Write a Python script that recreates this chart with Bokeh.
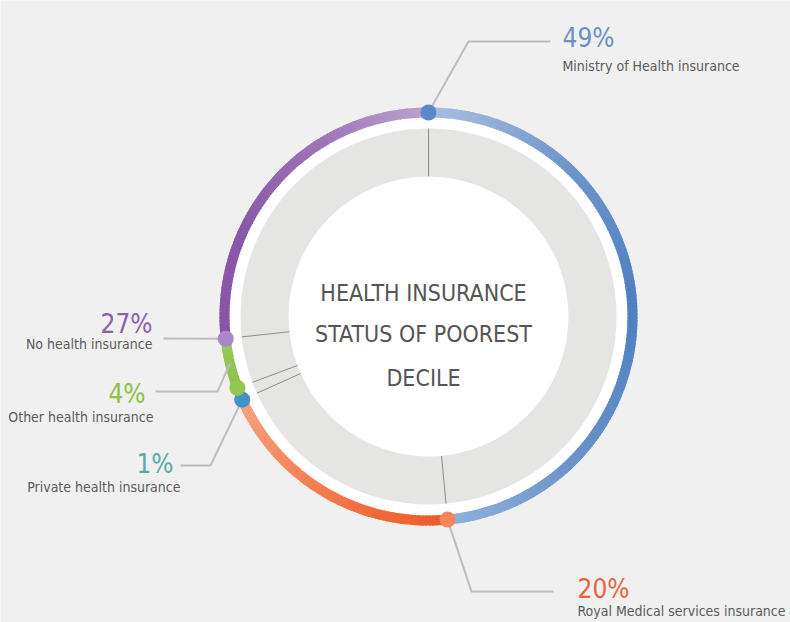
import math
from bokeh.plotting import figure
from bokeh.models import Range1d
from bokeh.core.properties import value
from bokeh.embed import file_html
from bokeh.resources import INLINE

# ---------------- data ----------------
categories = ["Ministry of Health insurance", "Royal Medical services insurance",
              "Private health insurance", "Other health insurance", "No health insurance"]
values = [49, 20, 1, 4, 27]
pct_labels = ["49%", "20%", "1%", "4%", "27%"]
title_lines = ["HEALTH INSURANCE", "STATUS OF POOREST", "DECILE"]

# ---------------- styles ----------------
FONT = "DejaVu Sans Condensed"
seg_stops = [
    ["#a9c0df", "#6f95cb", "#4e7fc0", "#6890c8", "#8fb0da"],
    ["#ef5828", "#f16c3c", "#f4875c", "#f6a283"],
    ["#45a0b8", "#5aaeaa"],
    ["#8cc24c", "#96ca5a"],
    ["#8854a7", "#8a58a9", "#9c74b8", "#bba3ce"],
]
dot_colors = ["#5a89c9", "#f4845a", "#3f93c6", "#93c752", "#a888c6"]
pct_colors = ["#6d8fc6", "#e8643c", "#5aaba6", "#8dc045", "#8e5fa8"]
label_color = "#5a5a5a"
leader_color = "#bdbdbd"

R_RING_IN, R_RING_OUT = 199, 209
R_RING_MID = (R_RING_IN + R_RING_OUT) / 2
R_GRAY_IN, R_GRAY_OUT = 140, 188

# label layout (data units = pixels, centre of donut at 0,0)
leader_anchor = ["start", "start", "start", "mid", "start"]
leader_pts = [
    [(40, 275), (122, 275)],
    [(43, -275), (125, -275)],
    [(-218, -149), (-248, -149)],
    [(-211, -75), (-273, -75)],
    [(-265, -22)],
]
pct_pos = [(134, 279), (149, -272), (-255, -147), (-283, -77), (-276, -7)]
lab_pos = [(134, 251), (149, -294), (-248, -170), (-275, -100), (-276, -27)]
text_align = ["left", "left", "right", "right", "right"]


def hex2rgb(h):
    h = h.lstrip("#")
    return [int(h[i:i + 2], 16) for i in (0, 2, 4)]


def interp(stops, t):
    if len(stops) == 1:
        return stops[0]
    pos = t * (len(stops) - 1)
    i = min(int(pos), len(stops) - 2)
    f = pos - i
    a, b = hex2rgb(stops[i]), hex2rgb(stops[i + 1])
    c = [round(a[k] + (b[k] - a[k]) * f) for k in range(3)]
    return "#%02x%02x%02x" % tuple(c)


# angles (clockwise from top)
total = sum(values)
starts, ends = [], []
a = 90.0
for v in values:
    span = v / total * 360.0
    starts.append(a)
    ends.append(a - span)
    a -= span

p = figure(width=790, height=622, x_range=Range1d(-428, 362), y_range=Range1d(-306, 316),
           output_backend="svg", toolbar_location=None, x_axis_location=None,
           y_axis_location=None, min_border=0, outline_line_color=None,
           background_fill_color="#f0f0f0", border_fill_color="#f0f0f0")
p.grid.visible = False

# white base disk and gray inner ring
p.circle(x=[0], y=[0], radius=R_RING_IN + 1, fill_color="white", line_color=None)
p.annular_wedge(x=0, y=0, inner_radius=R_GRAY_IN, outer_radius=R_GRAY_OUT,
                start_angle=0, end_angle=2 * math.pi, fill_color="#e5e5e3", line_color=None)

# dividers in gray ring
dx0, dy0, dx1, dy1 = [], [], [], []
for s in starts:
    r = math.radians(s)
    dx0.append(R_GRAY_OUT * math.cos(r)); dy0.append(R_GRAY_OUT * math.sin(r))
    dx1.append(R_GRAY_IN * math.cos(r)); dy1.append(R_GRAY_IN * math.sin(r))
p.segment(x0=dx0, y0=dy0, x1=dx1, y1=dy1, line_color="#8c8c8c", line_width=1)

# gradient coloured ring
ws, we, wc = [], [], []
for i, (s, e) in enumerate(zip(starts, ends)):
    span = s - e
    n = max(2, int(span))
    for k in range(n):
        t0 = s - span * k / n
        t1 = s - span * (k + 1) / n
        ws.append(math.radians(t1 - 0.3))
        we.append(math.radians(t0 + 0.3))
        wc.append(interp(seg_stops[i], (k + 0.5) / n))
p.annular_wedge(x=0, y=0, inner_radius=R_RING_IN, outer_radius=R_RING_OUT,
                start_angle=ws, end_angle=we, fill_color=wc, line_color=None)

# leader lines
lx, ly = [], []
for i in range(len(values)):
    ang = starts[i] if leader_anchor[i] == "start" else (starts[i] + ends[i]) / 2
    r = math.radians(ang)
    pts = [(R_RING_MID * math.cos(r), R_RING_MID * math.sin(r))] + leader_pts[i]
    lx.append([q[0] for q in pts]); ly.append([q[1] for q in pts])
p.multi_line(xs=lx, ys=ly, line_color=leader_color, line_width=2)

# dots at segment starts
for i, s in enumerate(starts):
    r = math.radians(s)
    p.circle(x=[R_RING_MID * math.cos(r)], y=[R_RING_MID * math.sin(r)], radius=8,
             fill_color=dot_colors[i], line_color=None)

# labels
for i in range(len(values)):
    p.text(x=[pct_pos[i][0]], y=[pct_pos[i][1]], text=[pct_labels[i]],
           text_align=text_align[i], text_baseline="alphabetic",
           text_font=value(FONT), text_font_size="26px", text_color=pct_colors[i])
    p.text(x=[lab_pos[i][0]], y=[lab_pos[i][1]], text=[categories[i]],
           text_align=text_align[i], text_baseline="alphabetic",
           text_font=value(FONT), text_font_size="14px", text_color=label_color)

# centre title
p.text(x=[-5, -5, -5], y=[24, -17, -61], text=title_lines, text_align="center",
       text_baseline="alphabetic", text_font=value(FONT), text_font_size="23px",
       text_color="#555555")

open("out.html", "w").write(file_html(p, INLINE))
